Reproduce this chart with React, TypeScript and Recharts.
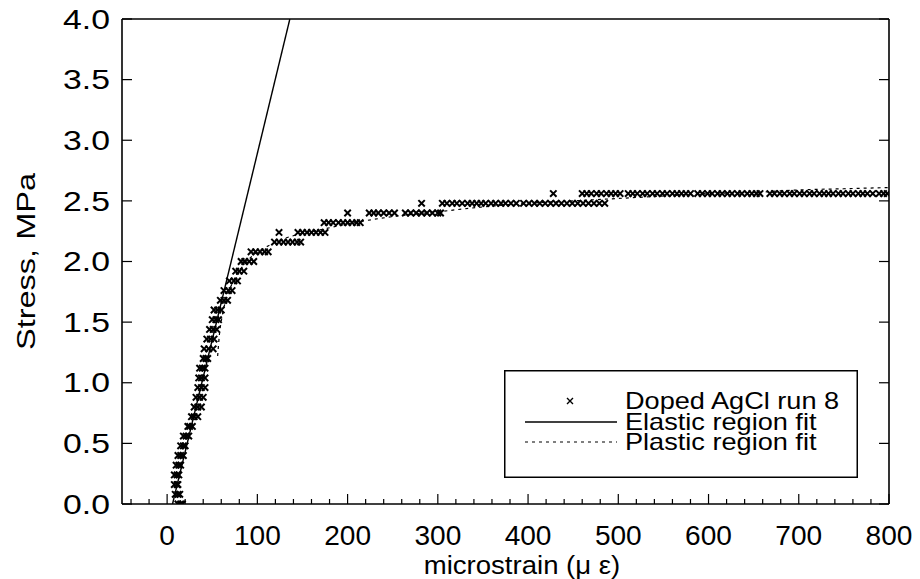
import React from 'react';
import { ComposedChart, XAxis, YAxis, Scatter, Line, Legend, Label } from 'recharts';

const FONT = '"Liberation Sans", Arial, Helvetica, sans-serif';

const strainTicks = [-40, -20, 0, 20, 40, 60, 80, 100, 120, 140, 160, 180, 200, 220, 240, 260, 280, 300, 320, 340, 360, 380, 400, 420, 440, 460, 480, 500, 520, 540, 560, 580, 600, 620, 640, 660, 680, 700, 720, 740, 760, 780, 800];
const strainLabels = [0, 100, 200, 300, 400, 500, 600, 700, 800];
const stressTicks = [0, 0.5, 1, 1.5, 2, 2.5, 3, 3.5, 4];
const stressLabels = ['0.0', '0.5', '1.0', '1.5', '2.0', '2.5', '3.0', '3.5', '4.0'];

const dopedAgClRun8 = [
  { x: 12, y: 0 }, { x: 15, y: 0 }, { x: 17, y: 0 },
  { x: 9, y: 0.08 }, { x: 12, y: 0.08 }, { x: 14, y: 0.08 },
  { x: 8, y: 0.16 }, { x: 11, y: 0.16 }, { x: 12, y: 0.16 },
  { x: 8, y: 0.24 }, { x: 11, y: 0.24 }, { x: 13, y: 0.24 },
  { x: 10, y: 0.32 }, { x: 13, y: 0.32 }, { x: 15, y: 0.32 },
  { x: 12, y: 0.4 }, { x: 15, y: 0.4 }, { x: 18, y: 0.4 },
  { x: 15, y: 0.48 }, { x: 18, y: 0.48 }, { x: 20, y: 0.48 },
  { x: 18, y: 0.56 }, { x: 21, y: 0.56 }, { x: 24, y: 0.56 },
  { x: 23, y: 0.64 }, { x: 25, y: 0.64 }, { x: 28, y: 0.64 },
  { x: 27, y: 0.72 }, { x: 30, y: 0.72 }, { x: 34, y: 0.72 },
  { x: 30, y: 0.8 }, { x: 34, y: 0.8 }, { x: 38, y: 0.8 },
  { x: 32, y: 0.88 }, { x: 36, y: 0.88 }, { x: 40, y: 0.88 },
  { x: 34, y: 0.96 }, { x: 38, y: 0.96 }, { x: 42, y: 0.96 },
  { x: 35, y: 1.04 }, { x: 38, y: 1.04 }, { x: 42, y: 1.04 },
  { x: 36, y: 1.12 }, { x: 39, y: 1.12 }, { x: 42, y: 1.12 },
  { x: 40, y: 1.2 }, { x: 43, y: 1.2 }, { x: 45, y: 1.2 },
  { x: 41, y: 1.28 }, { x: 46, y: 1.28 }, { x: 51, y: 1.28 },
  { x: 44, y: 1.36 }, { x: 48, y: 1.36 }, { x: 52, y: 1.36 },
  { x: 47, y: 1.44 }, { x: 51, y: 1.44 }, { x: 55, y: 1.44 },
  { x: 50, y: 1.52 }, { x: 54, y: 1.52 }, { x: 57, y: 1.52 },
  { x: 52, y: 1.6 }, { x: 56, y: 1.6 }, { x: 60, y: 1.6 },
  { x: 59, y: 1.68 }, { x: 63, y: 1.68 }, { x: 67, y: 1.68 },
  { x: 63, y: 1.76 }, { x: 68, y: 1.76 }, { x: 72, y: 1.76 },
  { x: 69, y: 1.84 }, { x: 74, y: 1.84 }, { x: 78, y: 1.84 },
  { x: 76, y: 1.92 }, { x: 80, y: 1.92 }, { x: 85, y: 1.92 },
  { x: 82, y: 2.0 }, { x: 86, y: 2.0 }, { x: 91, y: 2.0 }, { x: 96, y: 2.0 },
  { x: 93, y: 2.08 }, { x: 98, y: 2.08 }, { x: 103, y: 2.08 }, { x: 108, y: 2.08 }, { x: 112, y: 2.08 },
  { x: 119, y: 2.16 }, { x: 124, y: 2.16 }, { x: 129, y: 2.16 }, { x: 134, y: 2.16 }, { x: 139, y: 2.16 }, { x: 144, y: 2.16 }, { x: 148, y: 2.16 },
  { x: 124, y: 2.24 }, { x: 145, y: 2.24 }, { x: 150, y: 2.24 }, { x: 155, y: 2.24 }, { x: 160, y: 2.24 }, { x: 165, y: 2.24 }, { x: 170, y: 2.24 }, { x: 175, y: 2.24 },
  { x: 174, y: 2.32 }, { x: 179, y: 2.32 }, { x: 184, y: 2.32 }, { x: 190, y: 2.32 }, { x: 195, y: 2.32 }, { x: 200, y: 2.32 }, { x: 205, y: 2.32 }, { x: 210, y: 2.32 }, { x: 214, y: 2.32 },
  { x: 200, y: 2.4 }, { x: 224, y: 2.4 }, { x: 229, y: 2.4 }, { x: 234, y: 2.4 }, { x: 240, y: 2.4 }, { x: 246, y: 2.4 }, { x: 252, y: 2.4 },
  { x: 264, y: 2.4 }, { x: 270, y: 2.4 }, { x: 276, y: 2.4 }, { x: 282, y: 2.4 }, { x: 288, y: 2.4 }, { x: 294, y: 2.4 }, { x: 300, y: 2.4 }, { x: 303, y: 2.4 },
  { x: 282, y: 2.48 }, { x: 305, y: 2.48 }, { x: 310, y: 2.48 }, { x: 316, y: 2.48 }, { x: 321, y: 2.48 }, { x: 327, y: 2.48 }, { x: 333, y: 2.48 }, { x: 338, y: 2.48 },
  { x: 343, y: 2.48 }, { x: 348, y: 2.48 }, { x: 353, y: 2.48 }, { x: 359, y: 2.48 }, { x: 364, y: 2.48 }, { x: 370, y: 2.48 }, { x: 375, y: 2.48 }, { x: 381, y: 2.48 },
  { x: 387, y: 2.48 }, { x: 395, y: 2.48 }, { x: 401, y: 2.48 }, { x: 407, y: 2.48 }, { x: 413, y: 2.48 }, { x: 419, y: 2.48 }, { x: 425, y: 2.48 }, { x: 431, y: 2.48 },
  { x: 437, y: 2.48 }, { x: 443, y: 2.48 }, { x: 449, y: 2.48 }, { x: 455, y: 2.48 }, { x: 461, y: 2.48 }, { x: 467, y: 2.48 }, { x: 473, y: 2.48 }, { x: 479, y: 2.48 }, { x: 485, y: 2.48 },
  { x: 428, y: 2.56 }, { x: 460, y: 2.56 }, { x: 465, y: 2.56 }, { x: 470, y: 2.56 }, { x: 476, y: 2.56 }, { x: 481, y: 2.56 }, { x: 487, y: 2.56 }, { x: 492, y: 2.56 }, { x: 497, y: 2.56 }, { x: 502, y: 2.56 },
  { x: 511, y: 2.56 }, { x: 516, y: 2.56 }, { x: 521, y: 2.56 }, { x: 527, y: 2.56 }, { x: 532, y: 2.56 }, { x: 538, y: 2.56 }, { x: 543, y: 2.56 }, { x: 549, y: 2.56 },
  { x: 554, y: 2.56 }, { x: 560, y: 2.56 }, { x: 565, y: 2.56 }, { x: 570, y: 2.56 }, { x: 575, y: 2.56 }, { x: 580, y: 2.56 },
  { x: 588, y: 2.56 }, { x: 593, y: 2.56 }, { x: 599, y: 2.56 }, { x: 604, y: 2.56 }, { x: 610, y: 2.56 }, { x: 615, y: 2.56 }, { x: 621, y: 2.56 }, { x: 626, y: 2.56 },
  { x: 632, y: 2.56 }, { x: 637, y: 2.56 }, { x: 643, y: 2.56 }, { x: 648, y: 2.56 }, { x: 653, y: 2.56 }, { x: 657, y: 2.56 },
  { x: 668, y: 2.56 }, { x: 673, y: 2.56 }, { x: 679, y: 2.56 }, { x: 684, y: 2.56 }, { x: 690, y: 2.56 }, { x: 695, y: 2.56 }, { x: 701, y: 2.56 }, { x: 706, y: 2.56 },
  { x: 712, y: 2.56 }, { x: 717, y: 2.56 }, { x: 723, y: 2.56 }, { x: 728, y: 2.56 }, { x: 733, y: 2.56 }, { x: 738, y: 2.56 }, { x: 744, y: 2.56 }, { x: 749, y: 2.56 },
  { x: 755, y: 2.56 }, { x: 760, y: 2.56 }, { x: 766, y: 2.56 }, { x: 771, y: 2.56 }, { x: 776, y: 2.56 }, { x: 782, y: 2.56 }, { x: 789, y: 2.56 }, { x: 794, y: 2.56 }, { x: 798, y: 2.56 },
];

const elasticFit = [
  { x: 6, y: 0 },
  { x: 136, y: 4 },
];

const plasticFit = [
  { x: 56, y: 1.22 }, { x: 58, y: 1.4 }, { x: 61, y: 1.55 }, { x: 65, y: 1.68 }, { x: 71, y: 1.8 },
  { x: 78, y: 1.9 }, { x: 86, y: 1.98 }, { x: 95, y: 2.05 }, { x: 105, y: 2.1 }, { x: 115, y: 2.14 },
  { x: 130, y: 2.19 }, { x: 150, y: 2.23 }, { x: 175, y: 2.27 }, { x: 200, y: 2.31 }, { x: 250, y: 2.37 },
  { x: 300, y: 2.41 }, { x: 350, y: 2.45 }, { x: 400, y: 2.48 }, { x: 450, y: 2.5 }, { x: 500, y: 2.52 },
  { x: 550, y: 2.54 }, { x: 600, y: 2.56 }, { x: 650, y: 2.57 }, { x: 700, y: 2.59 }, { x: 750, y: 2.6 }, { x: 800, y: 2.61 },
];

const legendItems = ['Doped AgCl run 8', 'Elastic region fit', 'Plastic region fit'];

const XMark = (props: any) => {
  const { cx, cy } = props;
  if (cx == null || cy == null) return null;
  const s = 3.2;
  return (
    <path
      d={`M${cx - s},${cy - s}L${cx + s},${cy + s}M${cx - s},${cy + s}L${cx + s},${cy - s}`}
      stroke="#000"
      strokeWidth={2}
      fill="none"
    />
  );
};

const BottomTick = (props: any) => {
  const { x, y, payload } = props;
  const v = payload.value;
  const major = strainLabels.includes(v);
  return (
    <g>
      <line x1={x} x2={x} y1={y} y2={y - (major ? 10 : 5)} stroke="#000" strokeWidth={1.2} />
      {major && (
        <text
          transform={`translate(${x}, ${y + 32}) scale(1.04, 1)`}
          textAnchor="middle"
          dominantBaseline="central"
          fontSize={27}
          fontFamily={FONT}
          fill="#000"
        >
          {v}
        </text>
      )}
    </g>
  );
};

const TopTick = (props: any) => {
  const { x, y, payload } = props;
  const major = strainLabels.includes(payload.value);
  return <line x1={x} x2={x} y1={y} y2={y + (major ? 10 : 5)} stroke="#000" strokeWidth={1.2} />;
};

const LeftTick = (props: any) => {
  const { x, y, payload, index } = props;
  return (
    <g>
      <line x1={x} x2={x + 10} y1={y} y2={y} stroke="#000" strokeWidth={1.2} />
      <text
        transform={`translate(${x - 12}, ${y}) scale(1.25, 1)`}
        textAnchor="end"
        dominantBaseline="central"
        fontSize={27}
        fontFamily={FONT}
        fill="#000"
      >
        {stressLabels[stressTicks.indexOf(payload.value)] ?? stressLabels[index]}
      </text>
    </g>
  );
};

const RightTick = (props: any) => {
  const { x, y } = props;
  return <line x1={x} x2={x - 10} y1={y} y2={y} stroke="#000" strokeWidth={1.2} />;
};

const LegendBox = () => (
  <svg width={354} height={108} style={{ display: 'block' }}>
    <rect x={0.75} y={0.75} width={352.5} height={106.5} fill="#fff" stroke="#000" strokeWidth={1.5} />
    <path d="M63,28L69,34M63,34L69,28" stroke="#000" strokeWidth={1.4} />
    <line x1={21} x2={113} y1={52} y2={52} stroke="#000" strokeWidth={1.3} />
    <line x1={21} x2={113} y1={72} y2={72} stroke="#000" strokeWidth={1.2} strokeDasharray="3 4" />
    {legendItems.map((t, i) => (
      <text
        key={t}
        transform={`translate(121, ${31 + i * 20.5}) scale(1.18, 1)`}
        dominantBaseline="central"
        fontSize={23}
        fontFamily={FONT}
        fill="#000"
      >
        {t}
      </text>
    ))}
  </svg>
);

export default function App() {
  return (
    <div style={{ position: 'absolute', left: 0, top: 0, width: 920, height: 579, background: '#fff' }}>
      <ComposedChart width={920} height={579} margin={{ top: 18, right: 30, bottom: 15, left: 0 }}>
        <XAxis
          xAxisId={0}
          dataKey="x"
          type="number"
          domain={[-50, 800]}
          ticks={strainTicks}
          interval={0}
          height={60}
          tickSize={0}
          tickMargin={0}
          tickLine={false}
          axisLine={{ stroke: '#000', strokeWidth: 1.6 }}
          tick={<BottomTick />}
          allowDataOverflow
        >
          <Label
            content={(p: any) => {
              const vb = p.viewBox;
              return (
                <text
                  transform={`translate(522, ${vb.y + 61}) scale(1.06, 1)`}
                  textAnchor="middle"
                  dominantBaseline="central"
                  fontSize={26}
                  fontFamily={FONT}
                  fill="#000"
                >
                  microstrain (μ ε)
                </text>
              );
            }}
          />
        </XAxis>
        <XAxis
          xAxisId="top"
          orientation="top"
          type="number"
          domain={[-50, 800]}
          ticks={strainTicks}
          interval={0}
          height={1}
          tickSize={0}
          tickMargin={0}
          tickLine={false}
          axisLine={{ stroke: '#000', strokeWidth: 1.6 }}
          tick={<TopTick />}
          allowDataOverflow
        />
        <YAxis
          yAxisId={0}
          dataKey="y"
          type="number"
          domain={[0, 4]}
          ticks={stressTicks}
          interval={0}
          width={122}
          tickSize={0}
          tickMargin={0}
          tickLine={false}
          axisLine={{ stroke: '#000', strokeWidth: 1.6 }}
          tick={<LeftTick />}
          allowDataOverflow
        >
          <Label
            content={(p: any) => {
              const vb = p.viewBox;
              const cy = vb.y + vb.height / 2;
              return (
                <text
                  transform={`translate(26, ${cy}) rotate(-90) scale(1.25, 1)`}
                  textAnchor="middle"
                  dominantBaseline="central"
                  fontSize={26}
                  fontFamily={FONT}
                  fill="#000"
                >
                  Stress, MPa
                </text>
              );
            }}
          />
        </YAxis>
        <YAxis
          yAxisId="right"
          orientation="right"
          type="number"
          domain={[0, 4]}
          ticks={stressTicks}
          interval={0}
          width={1}
          tickSize={0}
          tickMargin={0}
          tickLine={false}
          axisLine={{ stroke: '#000', strokeWidth: 1.6 }}
          tick={<RightTick />}
          allowDataOverflow
        />
        <Line
          data={plasticFit}
          dataKey="y"
          type="monotone"
          stroke="#000"
          strokeWidth={1.2}
          strokeDasharray="3 4"
          dot={false}
          activeDot={false}
          isAnimationActive={false}
          name="Plastic region fit"
        />
        <Line
          data={elasticFit}
          dataKey="y"
          type="linear"
          stroke="#000"
          strokeWidth={1.4}
          dot={false}
          activeDot={false}
          isAnimationActive={false}
          name="Elastic region fit"
        />
        <Scatter
          data={dopedAgClRun8}
          dataKey="y"
          shape={<XMark />}
          isAnimationActive={false}
          name="Doped AgCl run 8"
        />
        <Legend
          layout="vertical"
          align="center"
          verticalAlign="middle"
          wrapperStyle={{ left: 504, top: 370, width: 354, height: 108 }}
          content={() => <LegendBox />}
        />
      </ComposedChart>
    </div>
  );
}
